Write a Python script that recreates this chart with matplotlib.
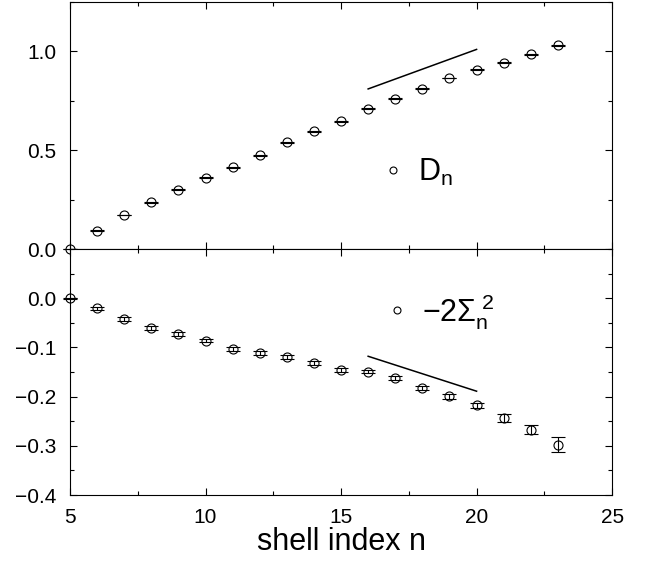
import numpy as np
import matplotlib
matplotlib.use('Agg')
import matplotlib.pyplot as plt
from matplotlib.ticker import MultipleLocator

plt.rcParams['font.family'] = ['Liberation Sans', 'DejaVu Sans']
plt.rcParams['mathtext.fontset'] = 'custom'
plt.rcParams['mathtext.rm'] = 'Liberation Sans'
plt.rcParams['mathtext.it'] = 'Liberation Sans:italic'
plt.rcParams['mathtext.sf'] = 'Liberation Sans'

# shell index
n = np.arange(5, 24)

# top panel: D_n
D_n = [0.0, 0.092, 0.172, 0.236, 0.301, 0.360, 0.414, 0.475, 0.539, 0.596,
       0.646, 0.709, 0.761, 0.812, 0.865, 0.908, 0.943, 0.985, 1.030]
D_err = [0.002] * 19

# bottom panel: -2 Sigma_n^2
S_n = [0.0, -0.020, -0.042, -0.060, -0.072, -0.086, -0.103, -0.111, -0.120, -0.132,
       -0.145, -0.149, -0.163, -0.182, -0.199, -0.218, -0.244, -0.267, -0.298]
S_err = [0.001, 0.003, 0.004, 0.004, 0.004, 0.004, 0.004, 0.004, 0.004, 0.004,
         0.004, 0.004, 0.004, 0.004, 0.005, 0.006, 0.008, 0.009, 0.015]

# slope guide lines
D_line_x = [16, 20]
D_line_y = [0.81, 1.01]
S_line_x = [16, 20]
S_line_y = [-0.118, -0.189]

fig = plt.figure(figsize=(6.45, 5.64), dpi=100)
ax1 = fig.add_axes([0.1085, 0.5585, 0.8405, 0.438])
ax2 = fig.add_axes([0.1085, 0.1223, 0.8405, 0.4362])

marker_kw = dict(fmt='o', mfc='none', mec='black', ms=6.5, mew=0.8,
                 ecolor='black', elinewidth=0.8, capsize=5, capthick=0.9,
                 clip_on=False, zorder=3)

ax1.errorbar(n, D_n, yerr=D_err, **marker_kw)
ax1.plot(D_line_x, D_line_y, color='black', lw=1.1)
ax2.errorbar(n, S_n, yerr=S_err, **marker_kw)
ax2.plot(S_line_x, S_line_y, color='black', lw=1.1)

# legends
h1, = ax1.plot([], [], 'o', mfc='none', mec='black', ms=5, mew=0.8, label=r'$\mathrm{D}_\mathrm{n}$')
ax1.legend(handles=[h1], loc='center left', bbox_to_anchor=(0.54, 0.31), frameon=False,
           fontsize=22, handlelength=1.0, handletextpad=0.3, borderpad=0)
h2, = ax2.plot([], [], 'o', mfc='none', mec='black', ms=5, mew=0.8, label=r'$-2\Sigma_\mathrm{n}^{\ 2}$')
ax2.legend(handles=[h2], loc='center left', bbox_to_anchor=(0.547, 0.745), frameon=False,
           fontsize=22, handlelength=1.0, handletextpad=0.3, borderpad=0)

for ax in (ax1, ax2):
    ax.set_xlim(5, 25)
    ax.xaxis.set_major_locator(MultipleLocator(5))
    ax.xaxis.set_minor_locator(MultipleLocator(2.5))
    ax.tick_params(which='both', direction='in', top=True, right=True, labelsize=15)
    ax.tick_params(which='major', length=5, width=0.8)
    ax.tick_params(which='minor', length=3, width=0.8)
    ax.tick_params(axis='y', pad=10)
    ax.tick_params(axis='x', pad=9)
    for s in ax.spines.values():
        s.set_linewidth(0.8)

ax1.set_ylim(0, 1.25)
ax1.yaxis.set_minor_locator(MultipleLocator(0.25))
ax1.set_yticks([0.0, 0.5, 1.0])
ax1.set_yticklabels(['0.0', '0.5', '1.0'])
ax1.tick_params(labelbottom=False)

ax2.set_ylim(-0.4, 0.1)
ax2.set_yticks([0.0, -0.1, -0.2, -0.3, -0.4])
ax2.set_yticklabels(['0.0', '\u22120.1', '\u22120.2', '\u22120.3', '\u22120.4'])
ax2.yaxis.set_minor_locator(MultipleLocator(0.05))
ax2.set_xticks([5, 10, 15, 20, 25])
ax2.set_xlabel('shell index n', fontsize=22, labelpad=0)

fig.savefig('out.png', dpi=100)
